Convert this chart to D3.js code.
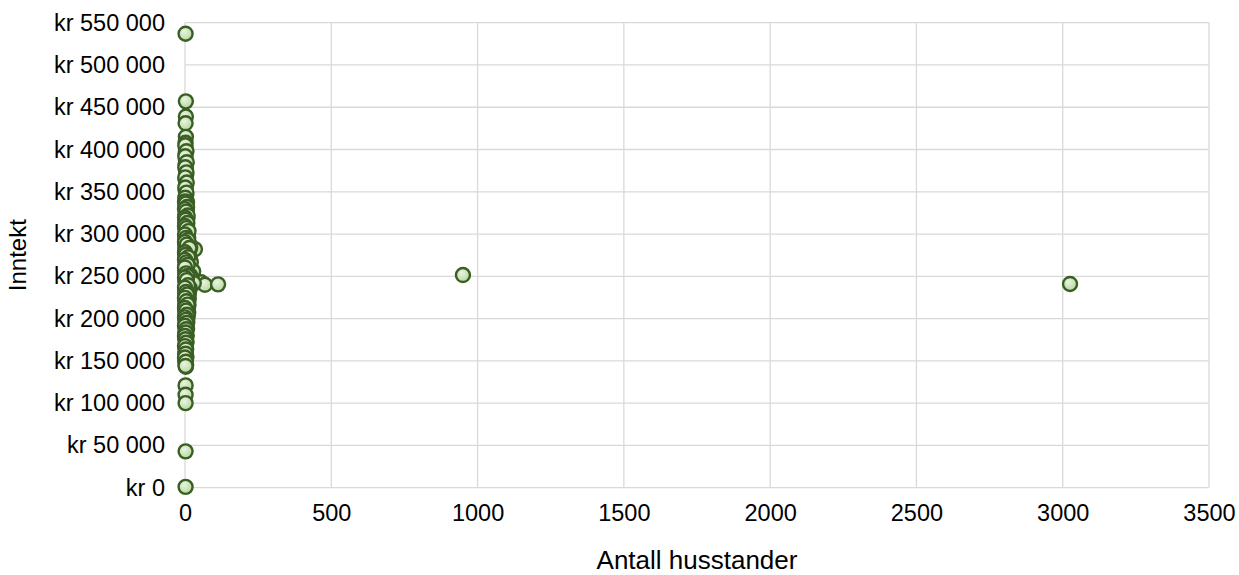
<!DOCTYPE html>
<html>
<head>
<meta charset="utf-8">
<script src="https://cdn.jsdelivr.net/npm/d3@7"></script>
<style>
  html, body { margin: 0; padding: 0; background: #ffffff; }
  svg { display: block; font-family: "Liberation Sans", Arial, sans-serif; }
</style>
</head>
<body>
<svg id="chart" width="1239" height="575"></svg>
<script>
// ---- data ----
const households = [
  2, 3, 3, 2, 3, 2, 3, 2, 3, 2, 3, 4, 2, 3, 2, 4, 3, 5, 2, 4,
  3, 6, 2, 4, 5, 3, 8, 2, 6, 4, 3, 34, 10, 5, 2, 7, 4, 12, 3, 6,
  24, 2, 9, 5, 15, 3, 20, 40, 55, 68, 113, 8, 4, 12, 2, 6, 10, 3, 5, 8,
  2, 4, 7, 3, 9, 2, 5, 3, 6, 2, 4, 3, 5, 2, 4, 3, 2, 4, 3, 2,
  3, 2, 3, 2, 3, 2, 2, 2, 2, 2, 950, 3025,
  1, 5, 1, 6, 1, 5, 1, 6, 1, 5, 1, 7, 1, 6, 1, 8, 1, 7, 1, 9,
  1, 11, 1, 14, 1, 18, 1, 13, 1, 16, 1, 20, 1, 14, 1, 28, 1, 18, 1, 22,
  1, 30, 1, 16, 1, 14, 1, 12, 1, 13, 1, 11, 1, 12, 1, 10, 1, 11, 1, 9,
  1, 8, 1, 7, 1, 6, 1, 5, 1, 4, 1, 5, 1, 4,
  0, 3, 7, 0, 4, 9, 0, 3, 8, 0, 5, 12, 0, 4, 10, 0, 6, 15, 0, 3,
  11, 0, 5, 9, 0, 4, 8, 0, 6, 10, 0, 3, 7, 0, 5, 9, 0, 4, 6, 0,
  3, 5, 0, 4, 3, 0, 2, 4, 0, 3, 2, 0, 3, 2
];
const income = [
  537000, 457000, 439000, 431000, 415000, 408000, 401000, 395000, 388000, 382000,
  376000, 370000, 365000, 358000, 352000, 346000, 340000, 335000, 330000, 325000,
  320000, 316000, 312000, 308000, 304000, 300000, 297000, 294000, 291000, 288000,
  285000, 282000, 280000, 277000, 274000, 271000, 268000, 265000, 262000, 259000,
  257000, 255000, 252000, 250000, 248000, 246000, 245000, 243000, 243000, 240000,
  240500, 241000, 239000, 237000, 235000, 233000, 231000, 229000, 227000, 225000,
  223000, 221000, 219000, 217000, 215000, 213000, 211000, 208000, 206000, 203000,
  200000, 197000, 194000, 190000, 186000, 182000, 178000, 174000, 170000, 166000,
  162000, 157000, 152000, 147000, 143000, 121000, 110000, 100000, 43000, 1000,
  251500, 241000,
  405000, 398000, 392000, 385000, 379000, 373000, 367000, 361000, 355000, 349000,
  343000, 338000, 333000, 328000, 323000, 318000, 314000, 310000, 306000, 302000,
  298000, 296000, 292000, 289000, 286000, 284000, 281000, 279000, 276000, 273000,
  270000, 267000, 264000, 261000, 258000, 256000, 254000, 251000, 249000, 247000,
  244000, 242000, 238000, 236000, 234000, 232000, 230000, 228000, 226000, 224000,
  222000, 220000, 218000, 216000, 214000, 212000, 210000, 207000, 205000, 202000,
  199000, 196000, 192000, 188000, 184000, 180000, 176000, 172000, 168000, 164000,
  160000, 155000, 150000, 145000,
  338500, 336000, 332000, 329500, 326500, 322000, 319500, 317000, 313000, 309500,
  307000, 303500, 299500, 295500, 293000, 290500, 287500, 283500, 278500, 275500,
  272500, 269500, 266500, 263500, 260500, 253500, 250500, 248500, 245500, 239500,
  236500, 231500, 228500, 224500, 220500, 216500, 212500, 209500, 204500, 201500,
  198500, 195000, 191500, 187500, 183500, 179500, 175500, 171500, 167500, 163500,
  158500, 154000, 149000, 144000
];
const xTicks = [0, 500, 1000, 1500, 2000, 2500, 3000, 3500];
const yTicks = [0, 50000, 100000, 150000, 200000, 250000, 300000, 350000, 400000, 450000, 500000, 550000];
const xTitle = "Antall husstander";
const yTitle = "Inntekt";

// ---- drawing ----
const svg = d3.select("#chart");
const x = d3.scaleLinear().domain([0, 3500]).range([185, 1209]);
const y = d3.scaleLinear().domain([0, 550000]).range([487.7, 22.7]);

const fmtKr = v => "kr " + d3.format(",")(v).replace(/,/g, " ");

const defs = svg.append("defs");
const grad = defs.append("radialGradient").attr("id", "mk")
  .attr("cx", "40%").attr("cy", "35%").attr("r", "70%");
grad.append("stop").attr("offset", "0%").attr("stop-color", "#e9f4e0");
grad.append("stop").attr("offset", "100%").attr("stop-color", "#b4d69c");

// gridlines
const gx = svg.append("g").attr("class", "gridx");
gx.selectAll("line").data(xTicks).enter().append("line")
  .attr("x1", d => x(d)).attr("x2", d => x(d))
  .attr("y1", y(550000)).attr("y2", y(0))
  .attr("stroke", "#d9d9d9").attr("stroke-width", 1.3);
const gy = svg.append("g").attr("class", "gridy");
gy.selectAll("line").data(yTicks).enter().append("line")
  .attr("x1", x(0)).attr("x2", x(3500))
  .attr("y1", d => y(d)).attr("y2", d => y(d))
  .attr("stroke", "#d9d9d9").attr("stroke-width", 1.3);

// axes (labels only)
const xAxis = d3.axisBottom(x).tickValues(xTicks).tickSize(0).tickPadding(17).tickFormat(d3.format("d"));
const gxa = svg.append("g").attr("transform", `translate(0,${y(0)})`).call(xAxis);
gxa.select(".domain").remove();
gxa.selectAll("text").attr("font-size", 23.5).attr("fill", "#000")
  .attr("font-family", "'Liberation Sans', Arial, sans-serif");

const yAxis = d3.axisLeft(y).tickValues(yTicks).tickSize(0).tickPadding(20).tickFormat(fmtKr);
const gya = svg.append("g").attr("transform", `translate(${x(0)},0)`).call(yAxis);
gya.select(".domain").remove();
gya.selectAll("text").attr("font-size", 23.5).attr("fill", "#000")
  .attr("font-family", "'Liberation Sans', Arial, sans-serif");

// titles
svg.append("text").attr("x", 697).attr("y", 569)
  .attr("text-anchor", "middle").attr("font-size", 26).attr("fill", "#000")
  .text(xTitle);
svg.append("text")
  .attr("transform", `translate(26,${(y(0) + y(550000)) / 2}) rotate(-90)`)
  .attr("text-anchor", "middle").attr("font-size", 24).attr("fill", "#000")
  .text(yTitle);

// points
const pts = households.map((h, i) => ({ h, v: income[i] }));
svg.append("g").selectAll("circle").data(pts).enter().append("circle")
  .attr("cx", d => x(d.h)).attr("cy", d => y(d.v)).attr("r", 7)
  .attr("fill", "url(#mk)").attr("stroke", "#3b5e24").attr("stroke-width", 2.4);
</script>
</body>
</html>
